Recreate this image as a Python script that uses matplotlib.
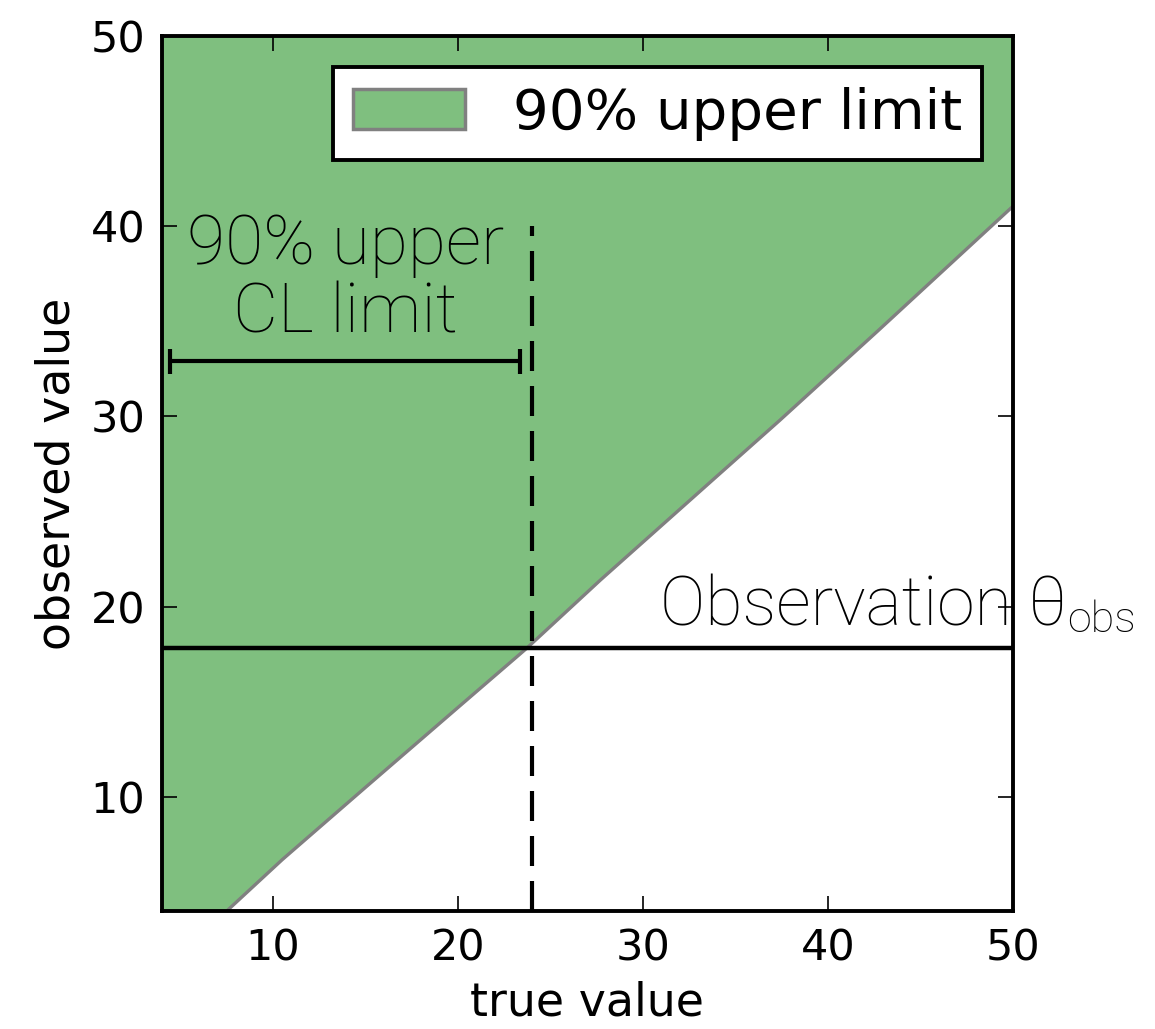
import matplotlib
matplotlib.use("Agg")
import matplotlib.pyplot as plt
from matplotlib import font_manager

# Lower edge of the 90% upper-limit acceptance band (observed vs. true value)
true_vals = [4.0, 7.5, 10.5, 15.0, 20.0, 23.7, 27.7, 33.7, 37.4, 42.7, 50.0]
band_lower = [4.0, 4.0, 6.7, 10.5, 14.7, 17.8, 21.4, 26.6, 29.8, 34.5, 41.05]
band_upper = 50.0

observed = 17.8          # observed value
upper_limit = 24.0       # resulting upper limit on the true value
limit_top = 40.0         # top of the dashed marker
bar_y = 32.9             # height of the CL-limit bracket
bar_left = 4.45
bar_right = 23.35

x_ticks = [10, 20, 30, 40, 50]
y_ticks = [10, 20, 30, 40, 50]

names = {f.name for f in font_manager.fontManager.ttflist}
light_family = "Roboto" if "Roboto" in names else "DejaVu Sans"

fig = plt.figure(figsize=(11.55, 10.29), dpi=100)
ax = fig.add_axes([0.1403, 0.1147, 0.877 - 0.1403, 0.965 - 0.1147])

ax.fill_between(true_vals, band_lower, band_upper, facecolor="green",
                alpha=0.5, linewidth=0, label="90% upper limit",
                edgecolor="black")
ax.plot(true_vals, band_lower, color="#808080", lw=2.4, zorder=2)

ax.axhline(observed, color="black", lw=3.2, zorder=3)
ax.plot([upper_limit, upper_limit], [4, limit_top], color="black", lw=3,
        dashes=(7.2, 3.6), zorder=3)

ax.errorbar([(bar_left + bar_right) / 2], [bar_y],
            xerr=[[(bar_right - bar_left) / 2], [(bar_right - bar_left) / 2]],
            fmt="none", ecolor="black", elinewidth=3, capsize=9, capthick=3,
            zorder=4)

ax.text(13.9, 37.2, "90% upper\nCL limit", ha="center", va="center",
        fontsize=50, family=light_family, fontweight="light", linespacing=1.05)

obs_txt = ax.text(30.9, 19.0, "Observation θ", ha="left", va="baseline",
                  fontsize=49, family=light_family, fontweight="light",
                  clip_on=False)
ax.annotate("obs", xy=(1, 0), xycoords=obs_txt, xytext=(0, -1),
            textcoords="offset points", ha="left", va="bottom",
            fontsize=31, family=light_family, fontweight="light",
            annotation_clip=False)

ax.set_xlim(4, 50)
ax.set_ylim(4, 50)
ax.set_xticks(x_ticks)
ax.set_yticks(y_ticks)
ax.tick_params(direction="in", top=True, right=True, length=11, width=1.2,
               labelsize=31, pad=12)
for s in ax.spines.values():
    s.set_linewidth(2.8)

ax.set_xlabel("true value", fontsize=33, labelpad=8)
ax.set_ylabel("observed value", fontsize=33, labelpad=8)

leg = ax.legend(loc="upper right", fontsize=40.5, fancybox=False,
                framealpha=1, borderpad=0.35, handlelength=2.0,
                handletextpad=0.85, borderaxespad=0.55)
leg.get_frame().set_edgecolor("black")
leg.get_frame().set_linewidth(2.8)
leg.legend_handles[0].set_edgecolor("#808080")
leg.legend_handles[0].set_linewidth(2.5)

fig.savefig("out.png", dpi=100)
